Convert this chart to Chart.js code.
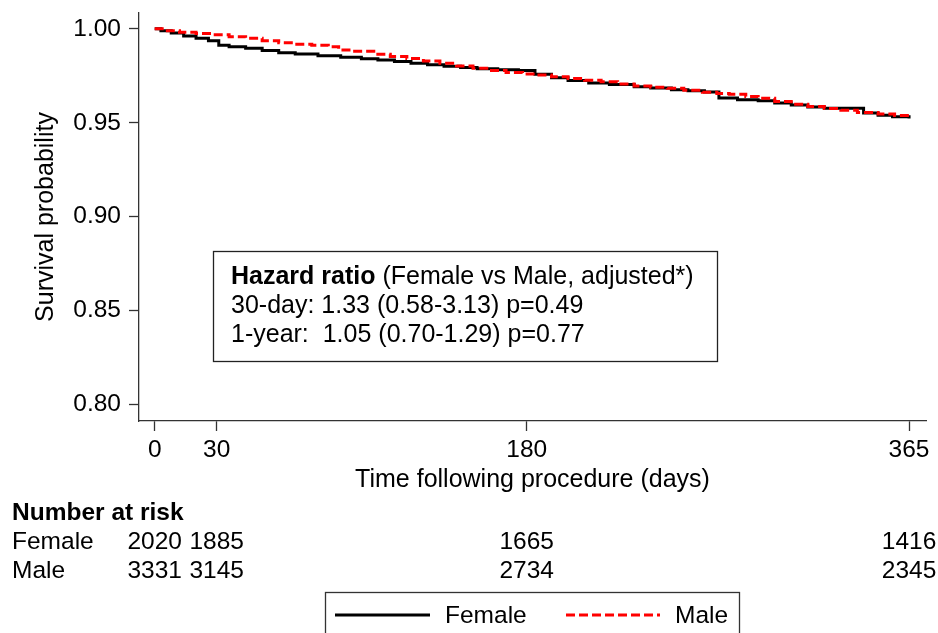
<!DOCTYPE html>
<html>
<head>
<meta charset="utf-8">
<script src="https://cdn.jsdelivr.net/npm/chart.js@4.4.0/dist/chart.umd.min.js"></script>
<style>
  html, body { margin: 0; padding: 0; background: #fff; }
  #wrap { width: 938px; height: 633px; }
</style>
</head>
<body>
<div id="wrap"><canvas id="kmChart" width="938" height="633"></canvas></div>
<script>
// Kaplan-Meier estimates
var femaleDays = [0, 3, 8, 14, 20, 26, 31, 36, 44, 52, 60, 68, 79, 90, 100, 108, 116, 124, 132, 140, 148, 156, 166, 176, 184, 192, 200, 210, 220, 232, 240, 250, 258, 266, 273, 282, 292, 300, 308, 316, 324, 343, 350, 357, 365];
var femaleSurv = [1.000, 0.9990, 0.9978, 0.9962, 0.9950, 0.9936, 0.9912, 0.9905, 0.9896, 0.9885, 0.9873, 0.9866, 0.9856, 0.9848, 0.9840, 0.9834, 0.9826, 0.9816, 0.9808, 0.9800, 0.9794, 0.9788, 0.9782, 0.9778, 0.9758, 0.9740, 0.9725, 0.9712, 0.9703, 0.9692, 0.9685, 0.9676, 0.9670, 0.9664, 0.9632, 0.9623, 0.9617, 0.9605, 0.9594, 0.9584, 0.9577, 0.9552, 0.9540, 0.9532, 0.9523];

var maleDays = [0, 5, 12, 20, 28, 36, 44, 52, 60, 68, 76, 84, 89, 96, 106, 114, 122, 130, 138, 146, 154, 162, 170, 178, 184, 192, 200, 208, 216, 224, 232, 240, 248, 256, 265, 272, 278, 286, 292, 300, 308, 316, 324, 332, 340, 350, 358, 365];
var maleSurv = [1.000, 0.9990, 0.9982, 0.9975, 0.9968, 0.9958, 0.9949, 0.9937, 0.9926, 0.9918, 0.9913, 0.9904, 0.9887, 0.9880, 0.9865, 0.9853, 0.9842, 0.9828, 0.9816, 0.9802, 0.9790, 0.9778, 0.9767, 0.9760, 0.9754, 0.9745, 0.9736, 0.9726, 0.9718, 0.9706, 0.9695, 0.9689, 0.9683, 0.9673, 0.9662, 0.9656, 0.9652, 0.9640, 0.9630, 0.9613, 0.9598, 0.9587, 0.9576, 0.9566, 0.9555, 0.9546, 0.9538, 0.9529];

var xTicks = [0, 30, 180, 365];
var yTicks = [0.80, 0.85, 0.90, 0.95, 1.00];

// number at risk table
var riskTimes = [0, 30, 180, 365];
var femaleAtRisk = [2020, 1885, 1665, 1416];
var maleAtRisk = [3331, 3145, 2734, 2345];

var hrTitle = 'Hazard ratio';
var hrSubtitle = ' (Female vs Male, adjusted*)';
var hrRows = ['30-day: 1.33 (0.58-3.13) p=0.49', '1-year:  1.05 (0.70-1.29) p=0.77'];

var FONT = '"Liberation Sans", Arial, Helvetica, sans-serif';
Chart.defaults.font.family = FONT;
Chart.defaults.font.size = 24.5;
Chart.defaults.color = '#000';

function toPoints(days, surv) {
    return days.map(function(d, i) { return { x: d, y: surv[i] }; });
}

// draws the hazard ratio box, the at-risk table and the legend
var extrasPlugin = {
    id: 'extras',
    afterDraw: function(chart) {
        var ctx = chart.ctx;
        var xs = chart.scales.x;
        ctx.save();
        ctx.fillStyle = '#000';
        ctx.textBaseline = 'alphabetic';

        // hazard ratio box
        ctx.strokeStyle = '#222';
        ctx.lineWidth = 1.3;
        ctx.strokeRect(213.5, 251.5, 504, 110);
        ctx.font = 'bold 25px ' + FONT;
        ctx.textAlign = 'left';
        ctx.fillText(hrTitle, 231, 284);
        var w = ctx.measureText(hrTitle).width;
        ctx.font = '25px ' + FONT;
        ctx.fillText(hrSubtitle, 231 + w, 284);
        ctx.fillText(hrRows[0], 231, 313);
        ctx.fillText(hrRows[1], 231, 342);

        // number at risk
        ctx.font = 'bold 24.5px ' + FONT;
        ctx.fillText('Number at risk', 12, 520);
        ctx.font = '24.5px ' + FONT;
        ctx.fillText('Female', 12, 549);
        ctx.fillText('Male', 12, 578);
        ctx.textAlign = 'center';
        riskTimes.forEach(function(t, i) {
            var px = xs.getPixelForValue(t);
            ctx.fillText(String(femaleAtRisk[i]), px, 549);
            ctx.fillText(String(maleAtRisk[i]), px, 578);
        });

        // legend
        ctx.font = '24.5px ' + FONT;
        ctx.strokeStyle = '#333';
        ctx.lineWidth = 1.3;
        ctx.strokeRect(325.5, 592.5, 414, 60);
        var items = [
            { ds: chart.data.datasets[0], x0: 335, x1: 430, tx: 445 },
            { ds: chart.data.datasets[1], x0: 566, x1: 660, tx: 675 }
        ];
        ctx.textAlign = 'left';
        items.forEach(function(it) {
            ctx.beginPath();
            ctx.strokeStyle = it.ds.borderColor;
            ctx.lineWidth = it.ds.borderWidth;
            ctx.setLineDash(it.ds.borderDash || []);
            ctx.moveTo(it.x0, 615);
            ctx.lineTo(it.x1, 615);
            ctx.stroke();
            ctx.setLineDash([]);
            ctx.fillText(it.ds.label, it.tx, 623);
        });
        ctx.restore();
    }
};

var ctx = document.getElementById('kmChart').getContext('2d');
var kmChart = new Chart(ctx, {
    type: 'line',
    data: {
        datasets: [{
            label: 'Female',
            data: toPoints(femaleDays, femaleSurv),
            borderColor: '#000',
            borderWidth: 3,
            stepped: true,
            order: 1
        }, {
            label: 'Male',
            data: toPoints(maleDays, maleSurv),
            borderColor: '#ff0000',
            borderWidth: 3,
            borderDash: [9, 4],
            stepped: true,
            order: 0
        }]
    },
    options: {
        responsive: false,
        animation: false,
        events: [],
        layout: { padding: { top: 13, right: 12, bottom: 137.6, left: 0 } },
        elements: { point: { radius: 0 } },
        plugins: {
            legend: { display: false },
            tooltip: { enabled: false }
        },
        scales: {
            x: {
                type: 'linear',
                min: -7.6,
                max: 373.2,
                afterBuildTicks: function(scale) {
                    scale.ticks = xTicks.map(function(v) { return { value: v }; });
                },
                afterFit: function(scale) {
                    scale.height = 74.4;
                    scale.paddingLeft = 0;
                    scale.paddingRight = 0;
                },
                grid: { drawOnChartArea: false, drawTicks: true, tickLength: 10, tickColor: '#333', tickWidth: 1.3 },
                border: { display: true, color: '#333', width: 1.3 },
                ticks: { padding: 5, maxRotation: 0, autoSkip: false, color: '#000' },
                title: { display: true, text: 'Time following procedure (days)', font: { size: 25 }, padding: { top: 0, bottom: 0 }, color: '#000' }
            },
            y: {
                type: 'linear',
                min: 0.7913,
                max: 1.0084,
                afterBuildTicks: function(scale) {
                    scale.ticks = yTicks.map(function(v) { return { value: v }; });
                },
                afterFit: function(scale) {
                    scale.width = 139;
                    scale.paddingTop = 0;
                    scale.paddingBottom = 0;
                },
                grid: { drawOnChartArea: false, drawTicks: true, tickLength: 10, tickColor: '#333', tickWidth: 1.3 },
                border: { display: true, color: '#333', width: 1.3 },
                ticks: {
                    padding: 8,
                    color: '#000',
                    callback: function(v) { return Number(v).toFixed(2); }
                },
                title: { display: true, text: 'Survival probability', font: { size: 25 }, padding: { top: 31, bottom: 0 }, color: '#000' }
            }
        }
    },
    plugins: [extrasPlugin]
});
</script>
</body>
</html>
